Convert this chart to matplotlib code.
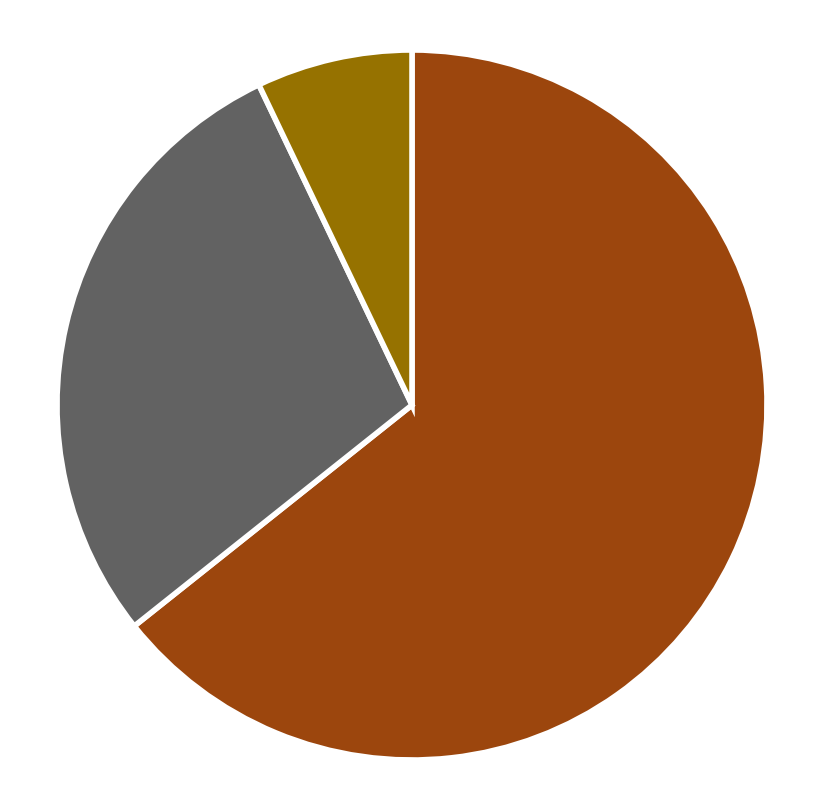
import matplotlib
matplotlib.use("Agg")
from matplotlib import pyplot as plt

# slice shares, clockwise from 12 o'clock
labels = ["A", "B", "C"]
values = [64.3, 28.6, 7.1]
colors = ["#9c460d", "#626262", "#967200"]

fig = plt.figure(figsize=(8.25, 8.12), dpi=100)
W, H = 825, 812
cx, cy, r = 412, 406, 355
ax = fig.add_axes([(cx - r) / W, (H - cy - r) / H, 2 * r / W, 2 * r / H])

ax.pie(values, colors=colors, startangle=90, counterclock=False, radius=1,
       wedgeprops=dict(edgecolor="white", linewidth=4))
ax.set_xlim(-1, 1)
ax.set_ylim(-1, 1)
ax.set_aspect("equal")
ax.axis("off")

fig.savefig("out.png", dpi=100, facecolor="white")
